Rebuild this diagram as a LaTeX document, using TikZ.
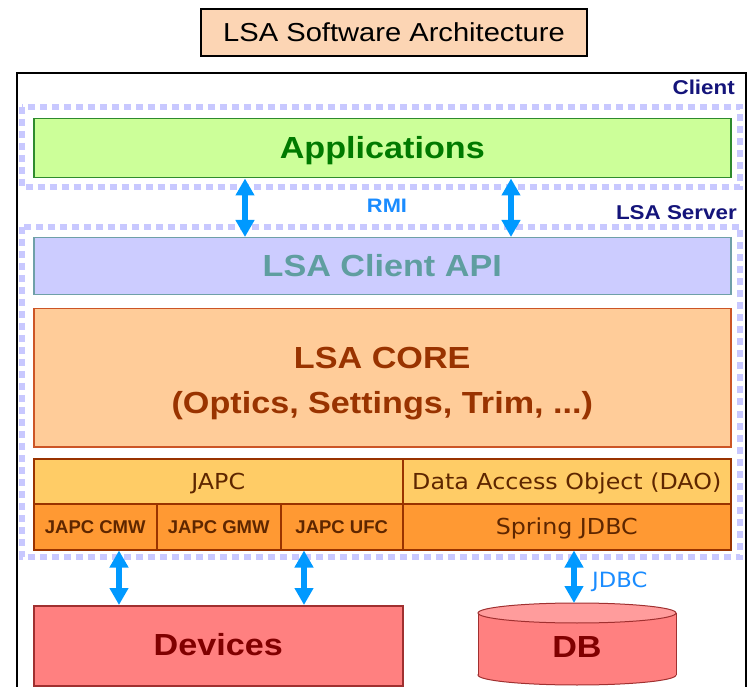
\documentclass[tikz,border=0pt]{standalone}
\usepackage{fontspec}
\setmainfont{Liberation Sans}
\newfontfamily\wideface[FakeStretch=1.12]{Liberation Sans}
\newfontfamily\verdface[FakeStretch=1.08]{DejaVu Sans}
\usetikzlibrary{arrows.meta}

\definecolor{titlefill}{HTML}{FCD5B4}
\definecolor{appfill}{HTML}{CCFF99}
\definecolor{appline}{HTML}{2E8B2E}
\definecolor{apptext}{HTML}{007A00}
\definecolor{apifill}{HTML}{CCCCFF}
\definecolor{apiline}{HTML}{6FA0A8}
\definecolor{apitext}{HTML}{5F9EA0}
\definecolor{corefill}{HTML}{FFCC99}
\definecolor{coreline}{HTML}{CC5526}
\definecolor{coretext}{HTML}{993300}
\definecolor{upperfill}{HTML}{FFCC66}
\definecolor{lowerfill}{HTML}{FF9933}
\definecolor{layerline}{HTML}{993300}
\definecolor{layertext}{HTML}{5E2600}
\definecolor{devfill}{HTML}{FF8080}
\definecolor{devline}{HTML}{A03030}
\definecolor{devtext}{HTML}{800000}
\definecolor{dbtopfill}{HTML}{FF9C9C}
\definecolor{tierline}{HTML}{C8C8FF}
\definecolor{tiertext}{HTML}{14147A}
\definecolor{linkcol}{HTML}{0099FF}
\definecolor{linktext}{HTML}{1A8CFF}

\begin{document}
\begin{tikzpicture}[x=1pt,y=-1pt,
  layerbox/.style={draw, line width=1.5pt, anchor=north west, inner sep=0pt, align=center},
  bigbold/.style={font=\wideface\bfseries\fontsize{30.5}{45}\selectfont},
  oneline/.style={text height=20pt, text depth=0pt},
  tier/.style={draw=tierline, line width=6pt, dash pattern=on 7pt off 5pt},
  tierlabel/.style={font=\wideface\bfseries\fontsize{20}{22}\selectfont, text=tiertext, inner sep=0pt},
  protolabel/.style={text=linktext, inner sep=0pt},
  biarrow/.style={draw=linkcol, line width=5.5pt,
    {Triangle[length=17pt,width=18pt]}-{Triangle[length=17pt,width=18pt]}},
  smallcell/.style={layerbox, draw=layerline, fill=lowerfill, text=layertext,
    font=\bfseries\fontsize{18.5}{20}\selectfont, minimum height=46pt},
  plaincell/.style={layerbox, draw=layerline, text=layertext,
    font=\verdface\fontsize{22}{24}\selectfont, text height=16pt, text depth=0pt}
]
\useasboundingbox (0,0) rectangle (748,687);

% title
\node[draw, line width=1.2pt, fill=titlefill, minimum width=386pt, minimum height=47pt,
  inner sep=0pt, font=\wideface\fontsize{26}{28}\selectfont] (title) at (394,32.5)
  {LSA Software Architecture};

% outer frame (continues past the lower edge)
\draw[line width=1.5pt] (17,687) -- (17,73) -- (746,73) -- (746,687);

% tier outlines
\draw[tier] (21.5,107) rectangle (740,187);
\draw[tier] (21.5,227) rectangle (740,557);

\node[tierlabel, anchor=base east] (client) at (735,95) {Client};
\node[tierlabel, anchor=base east] (server) at (737,220) {LSA Server};

% layers
\node[layerbox, draw=appline, fill=appfill, text=apptext, bigbold, oneline,
  minimum width=697pt, minimum height=59pt] (app) at (33,118) {Applications};
\node[layerbox, draw=apiline, fill=apifill, text=apitext, bigbold, oneline,
  minimum width=697pt, minimum height=57pt] (api) at (33,237) {LSA Client API};
\node[layerbox, draw=coreline, fill=corefill, text=coretext, bigbold,
  minimum width=697pt, minimum height=138pt] (core) at (33,308)
  {\rule{0pt}{32pt}LSA CORE\\(Optics, Settings, Trim, ...)};

\node[plaincell, fill=upperfill, minimum width=369pt, minimum height=45pt] (japc) at (33,458) {JAPC};
\node[plaincell, fill=upperfill, minimum width=328pt, minimum height=45pt] (dao) at (402,458) {Data Access Object (DAO)};
\node[smallcell, minimum width=123pt] (cmw) at (33,503) {JAPC CMW};
\node[smallcell, minimum width=124pt] (gmw) at (156,503) {JAPC GMW};
\node[smallcell, minimum width=122pt] (ufc) at (280,503) {JAPC UFC};
\node[plaincell, fill=lowerfill, minimum width=328pt, minimum height=46pt] (spring) at (402,503) {Spring JDBC};

% devices
\node[layerbox, draw=devline, fill=devfill, text=devtext, bigbold, oneline,
  minimum width=369pt, minimum height=80pt] (devices) at (33,605) {Devices};

% database cylinder
\filldraw[fill=devfill, draw=devline, line width=1pt] (577,675) ellipse [x radius=99, y radius=10];
\fill[devfill] (478,613) rectangle (676,675);
\draw[devline, line width=1pt] (478,613) -- (478,675) (676,613) -- (676,675);
\filldraw[fill=dbtopfill, draw=devline, line width=1pt] (577,613) ellipse [x radius=99, y radius=10];
\coordinate (dbtop) at (574,603);
\node[bigbold, oneline, text=devtext, inner sep=0pt] (db) at (577,647) {DB};

% protocol labels
\node[protolabel, font=\wideface\bfseries\fontsize{19.5}{21}\selectfont, anchor=base] (rmi) at (387,213) {RMI};
\node[protolabel, font=\verdface\fontsize{21}{23}\selectfont, anchor=base west] (jdbc) at (592,587) {JDBC};

% connectors
\coordinate (rmiA) at (245,0);
\coordinate (rmiB) at (511,0);
\coordinate (devA) at (119,0);
\coordinate (devB) at (304,0);
\draw[biarrow] (app.south -| rmiA) -- (api.north -| rmiA);
\draw[biarrow] (app.south -| rmiB) -- (api.north -| rmiB);
\draw[biarrow] (cmw.south -| devA) -- (devices.north -| devA);
\draw[biarrow] (ufc.south -| devB) -- (devices.north -| devB);
\draw[biarrow] (spring.south -| dbtop) -- (dbtop);
\end{tikzpicture}
\end{document}
